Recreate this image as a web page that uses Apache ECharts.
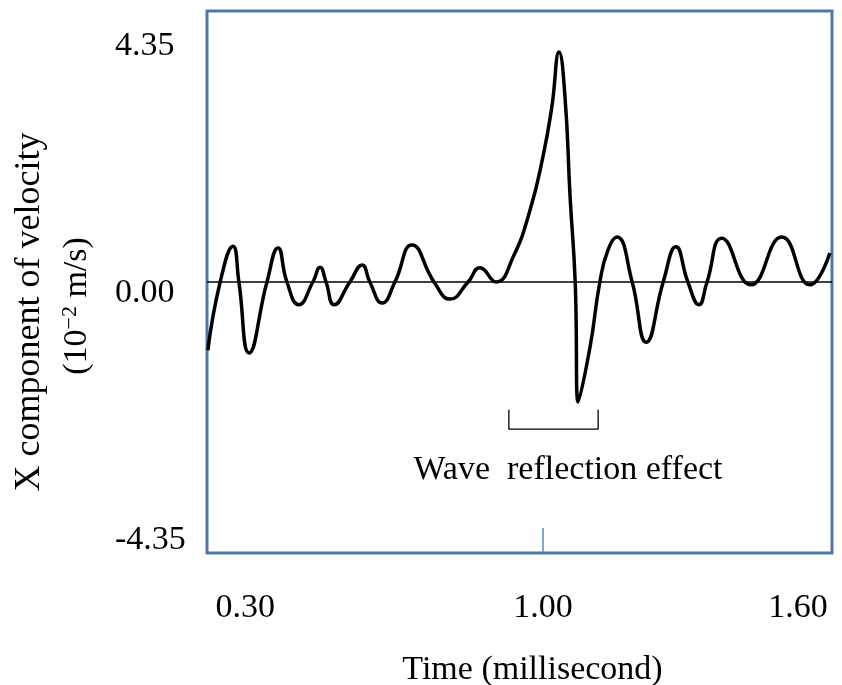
<!DOCTYPE html>
<html>
<head>
<meta charset="utf-8">
<script src="https://cdn.jsdelivr.net/npm/echarts@6/dist/echarts.min.js"></script>
<style>
html,body{margin:0;padding:0;background:#fff;}
#chart{width:842px;height:685px;}
</style>
</head>
<body>
<div id="chart"></div>
<script>
// Time (millisecond)
var time = [0.212,0.241,0.271,0.285,0.309,0.351,0.377,0.398,0.426,0.459,0.476,0.490,0.509,0.546,0.575,0.593,0.622,0.652,0.692,0.744,0.782,0.824,0.852,0.890,0.930,0.970,1.000,1.021,1.038,1.052,1.064,1.076,1.083,1.111,1.134,1.153,1.174,1.210,1.243,1.283,1.313,1.341,1.367,1.386,1.421,1.489,1.562,1.628,1.675];
// X component of velocity (10^-2 m/s)
var velocity = [-1.20,0.00,0.63,0.00,-1.25,0.00,0.60,0.00,-0.40,0.00,0.26,0.00,-0.40,0.00,0.30,0.00,-0.37,0.00,0.65,0.00,-0.30,0.00,0.25,0.00,0.44,1.27,2.20,3.08,4.05,3.26,1.50,0.00,-2.11,-1.14,0.00,0.56,0.79,0.00,-1.06,0.00,0.62,0.00,-0.40,0.00,0.77,-0.05,0.79,-0.05,0.51];
// bracket marking the wave reflection effect
var bracketTime = [0.920,0.920,1.130,1.130];
var bracketVel = [-2.25,-2.59,-2.59,-2.25];
var xTicks = [0.30,1.00,1.60];
var yTicks = [-4.35,0.00,4.35];
var tickMark = [1.00];

var chart = echarts.init(document.getElementById('chart'));
var serif = '"Liberation Serif","Times New Roman",serif';
var curve = time.map(function(t,i){return [t, velocity[i]];});
var bracket = bracketTime.map(function(t,i){return [t, bracketVel[i]];});

chart.setOption({
  animation:false,
  backgroundColor:'#fff',
  grid:{left:207,top:11,width:625,height:542,containLabel:false,outerBoundsMode:'none',
        show:true,borderColor:'#4d78a8',borderWidth:3,backgroundColor:'transparent'},
  xAxis:{
    type:'value',min:0.21,max:1.68,
    name:'Time (millisecond)',nameLocation:'middle',nameGap:100,
    nameTextStyle:{fontFamily:serif,fontSize:34,color:'#000',padding:[0,0,0,26]},
    axisLine:{show:false,onZero:false},
    splitLine:{show:false},
    axisTick:{show:true,inside:true,length:25,customValues:tickMark,lineStyle:{color:'#5b8ac4',width:1.5}},
    axisLabel:{customValues:xTicks,margin:38,fontFamily:serif,fontSize:34,color:'#000',
      formatter:function(v){return v.toFixed(2);}}
  },
  yAxis:{
    type:'value',min:-4.77,max:4.77,
    axisLine:{show:false},
    splitLine:{show:false},
    axisTick:{show:false},
    axisLabel:{customValues:yTicks,margin:92,align:'left',verticalAlign:'top',lineHeight:22,fontFamily:serif,fontSize:34,color:'#000',
      formatter:function(v){return v.toFixed(2);}}
  },
  graphic:[
    {type:'text',x:30,y:312,rotation:Math.PI/2,
     style:{text:'X component of velocity',font:'36px "Liberation Serif","Times New Roman",serif',fill:'#000',align:'center',verticalAlign:'middle'}},
    {type:'text',x:77,y:306,rotation:Math.PI/2,
     style:{text:'(10{sup|\u22122} m/s)',font:'34px "Liberation Serif","Times New Roman",serif',fill:'#000',align:'center',verticalAlign:'middle',
       rich:{sup:{fontSize:22,fontFamily:serif,verticalAlign:'top',padding:[0,0,14,0]}}}},
    {type:'text',x:568,y:470,
     style:{text:'Wave  reflection effect',font:'34px "Liberation Serif","Times New Roman",serif',fill:'#000',align:'center',verticalAlign:'middle'}}
  ],
  series:[
    {type:'line',data:curve,smooth:0.5,showSymbol:false,lineStyle:{color:'#000',width:3.5},
     markLine:{silent:true,symbol:'none',label:{show:false},lineStyle:{color:'#000',width:1.5,type:'solid'},data:[{yAxis:0}]}},
    {type:'line',data:bracket,showSymbol:false,lineStyle:{color:'#000',width:1.3}}
  ]
});
</script>
</body>
</html>
